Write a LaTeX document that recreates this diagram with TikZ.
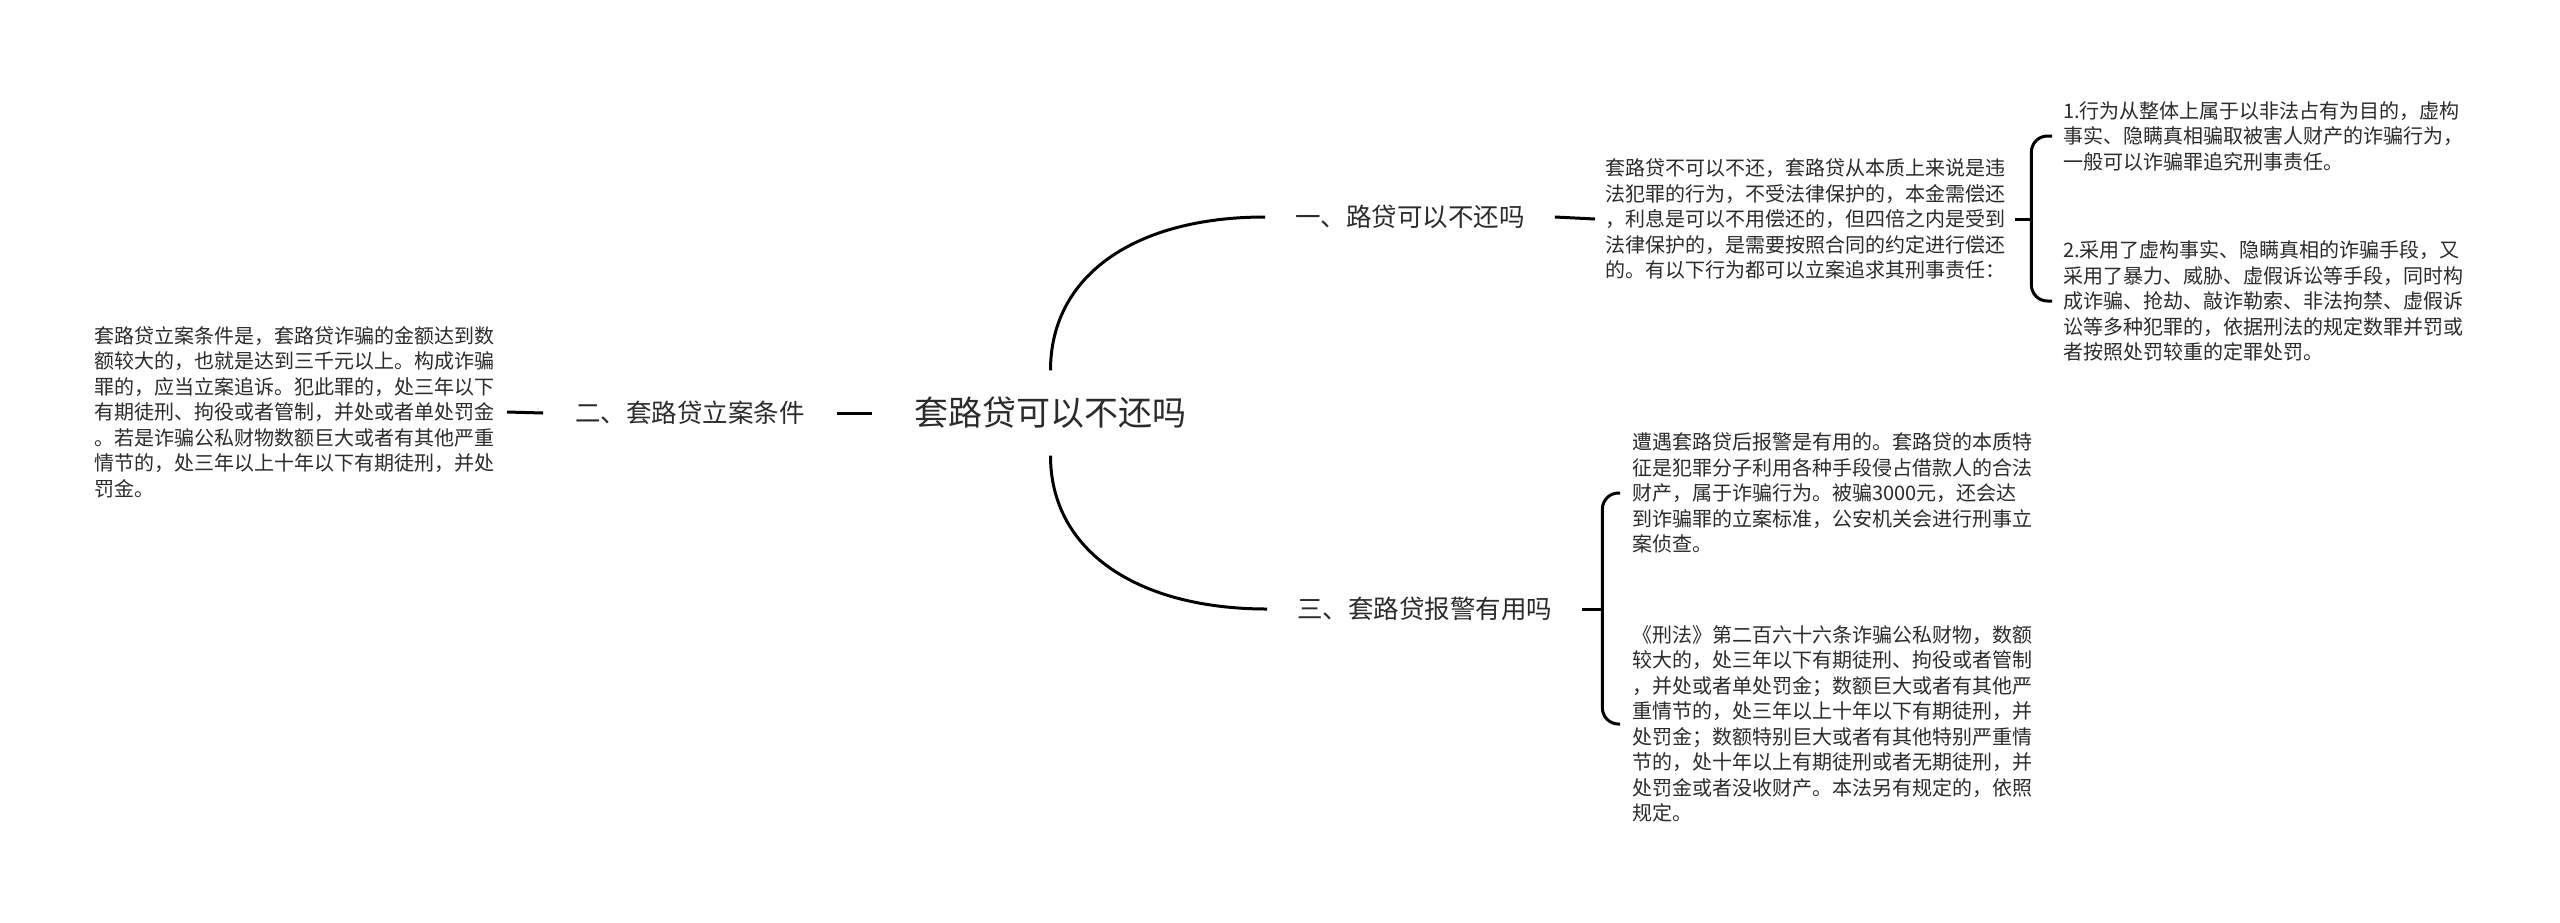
\documentclass[tikz,border=0pt]{standalone}
\usepackage{fontspec}
\setmainfont{Noto Sans CJK SC}
\definecolor{txt}{HTML}{2B2B2B}
\begin{document}
\begin{tikzpicture}[x=1pt,y=-1pt,
  conn/.style={line width=3pt,black},
  brk/.style={line width=3pt,black,rounded corners=16pt},
  rootnode/.style={font=\fontsize{34}{40}\selectfont,text=txt,inner xsep=42pt,inner ysep=0pt,minimum height=85pt},
  branch/.style={font=\fontsize{25.5}{30}\selectfont,text=txt,inner xsep=30pt,inner ysep=4pt,anchor=west},
  leaf/.style={font=\fontsize{20}{25.5}\selectfont,text=txt,align=left,inner ysep=2pt,anchor=west}]
\useasboundingbox (0,0) rectangle (2560,922);
\fill[white] (0,0) rectangle (2560,922);

\node[rootnode] (root) at (1050.5,413) {套路贷可以不还吗};

\node[branch] (b1) at (1265,217) {一、路贷可以不还吗};
\node[branch,anchor=east,inner xsep=32pt] (b2) at (837,413) {二、套路贷立案条件};
\node[branch] (b3) at (1267,609) {三、套路贷报警有用吗};

\node[leaf,anchor=east,inner xsep=12pt] (L) at (507,412) {套路贷立案条件是，套路贷诈骗的金额达到数\\额较大的，也就是达到三千元以上。构成诈骗\\罪的，应当立案追诉。犯此罪的，处三年以下\\有期徒刑、拘役或者管制，并处或者单处罚金\\。若是诈骗公私财物数额巨大或者有其他严重\\情节的，处三年以上十年以下有期徒刑，并处\\罚金。};

\node[leaf,inner xsep=10pt] (t1) at (1595,219) {套路贷不可以不还，套路贷从本质上来说是违\\法犯罪的行为，不受法律保护的，本金需偿还\\，利息是可以不用偿还的，但四倍之内是受到\\法律保护的，是需要按照合同的约定进行偿还\\的。有以下行为都可以立案追求其刑事责任：};

\node[leaf,inner xsep=11pt] (c2a) at (2052,136) {1.行为从整体上属于以非法占有为目的，虚构\\事实、隐瞒真相骗取被害人财产的诈骗行为，\\一般可以诈骗罪追究刑事责任。};
\node[leaf,inner xsep=11pt] (c2b) at (2052,301) {2.采用了虚构事实、隐瞒真相的诈骗手段，又\\采用了暴力、威胁、虚假诉讼等手段，同时构\\成诈骗、抢劫、敲诈勒索、非法拘禁、虚假诉\\讼等多种犯罪的，依据刑法的规定数罪并罚或\\者按照处罚较重的定罪处罚。};

\node[leaf,inner xsep=12pt] (c3a) at (1620,493) {遭遇套路贷后报警是有用的。套路贷的本质特\\征是犯罪分子利用各种手段侵占借款人的合法\\财产，属于诈骗行为。被骗3000元，还会达\\到诈骗罪的立案标准，公安机关会进行刑事立\\案侦查。};
\node[leaf,inner xsep=12pt] (c3b) at (1620,724) {《刑法》第二百六十六条诈骗公私财物，数额\\较大的，处三年以下有期徒刑、拘役或者管制\\，并处或者单处罚金；数额巨大或者有其他严\\重情节的，处三年以上十年以下有期徒刑，并\\处罚金；数额特别巨大或者有其他特别严重情\\节的，处十年以上有期徒刑或者无期徒刑，并\\处罚金或者没收财产。本法另有规定的，依照\\规定。};

% main curves
\draw[conn] (root.north) .. controls +(0,-95) and +(-130,0) .. (b1.west);
\draw[conn] (root.south) .. controls +(0,95) and +(-130,0) .. (b3.west);
\draw[conn] (b2.east) -- (root.west);
\draw[conn] (L.east) -- (b2.west);
\draw[conn] (b1.east) -- (t1.west);

% bracket from t1
\draw[conn] (t1.east) -- ++(16,0) coordinate (j1);
\draw[brk] (j1) |- (c2a.west);
\draw[brk] (j1) |- (c2b.west);

% bracket from b3
\draw[conn] (b3.east) -- ++(20,0) coordinate (j3);
\draw[brk] (j3) |- (c3a.west);
\draw[brk] (j3) |- (c3b.west);
\end{tikzpicture}
\end{document}
